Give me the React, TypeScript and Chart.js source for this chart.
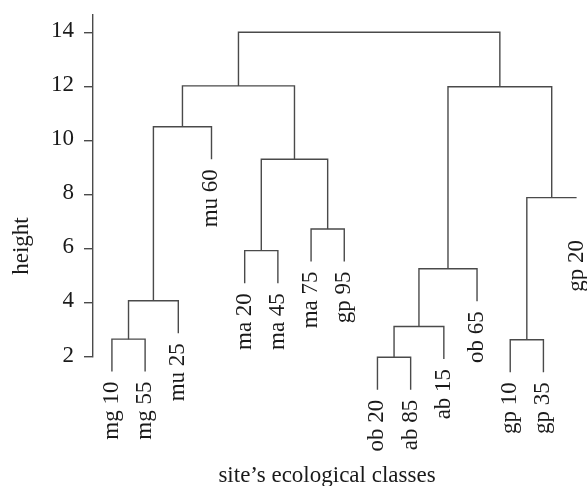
import React, { useEffect, useRef } from 'react';
import { Chart, registerables } from 'chart.js';

Chart.register(...registerables);

// Leaves in display order
const leafLabels = ['mg 10', 'mg 55', 'mu 25', 'mu 60', 'ma 20', 'ma 45', 'ma 75', 'gp 95', 'ob 20', 'ab 85', 'ab 15', 'ob 65', 'gp 10', 'gp 35', 'gp 20'];
// hclust-style merges: negative = leaf (1-based), positive = earlier merge (1-based)
const mergeLeft = [-9, -13, -1, 1, 3, 4, -5, -7, 2, 7, 5, 6, 11, 13];
const mergeRight = [-10, -14, -2, -11, -3, -12, -6, -8, -15, 8, -4, 9, 10, 12];
const mergeHeight = [1.99, 2.64, 2.66, 3.13, 4.08, 5.26, 5.93, 6.73, 7.89, 9.31, 10.51, 11.99, 12.02, 14.0];
const leafHang = 1.2;
const yTicks = [2, 4, 6, 8, 10, 12, 14];
const yTitle = 'height';
const xTitle = 'site\u2019s ecological classes';

const FONT = '"Liberation Serif", "Times New Roman", serif';
const LINE = '#4a4a4a';
const TEXT = '#1a1a1a';

function buildTree() {
  const nodeX: number[] = [];
  const leafBottom: number[] = new Array(leafLabels.length).fill(0);
  const segments: { x: number; y: number }[][] = [];
  for (let k = 0; k < mergeHeight.length; k++) {
    const h = mergeHeight[k];
    const info = (c: number) => {
      if (c < 0) {
        leafBottom[-c - 1] = h - leafHang;
        return { x: -c, y: h - leafHang };
      }
      return { x: nodeX[c - 1], y: mergeHeight[c - 1] };
    };
    const l = info(mergeLeft[k]);
    const r = info(mergeRight[k]);
    nodeX[k] = (l.x + r.x) / 2;
    segments.push([
      { x: l.x, y: l.y },
      { x: l.x, y: h },
      { x: r.x, y: h },
      { x: r.x, y: r.y },
    ]);
  }
  return { segments, leafBottom };
}

export default function App() {
  const ref = useRef<HTMLCanvasElement | null>(null);

  useEffect(() => {
    if (!ref.current) return;
    const { segments, leafBottom } = buildTree();

    const textPlugin = {
      id: 'dendroText',
      afterDraw(chart: any) {
        const ctx = chart.ctx;
        const xs = chart.scales.x;
        const ys = chart.scales.y;
        ctx.save();
        ctx.fillStyle = TEXT;
        ctx.font = `23px ${FONT}`;
        // leaf labels
        leafLabels.forEach((lab, i) => {
          const px = xs.getPixelForValue(i + 1);
          const py = ys.getPixelForValue(leafBottom[i]) + 10;
          ctx.save();
          ctx.translate(px, py);
          ctx.rotate(-Math.PI / 2);
          ctx.textAlign = 'right';
          ctx.textBaseline = 'alphabetic';
          ctx.fillText(lab, 0, 6);
          ctx.restore();
        });
        // y title
        ctx.save();
        ctx.translate(28, 246);
        ctx.rotate(-Math.PI / 2);
        ctx.textAlign = 'center';
        ctx.textBaseline = 'alphabetic';
        ctx.fillText(yTitle, 0, 0);
        ctx.restore();
        // x title
        ctx.textAlign = 'center';
        ctx.textBaseline = 'alphabetic';
        ctx.fillText(xTitle, 327, 481.5);
        ctx.restore();
      },
    };

    const chart = new Chart(ref.current, {
      type: 'line',
      data: {
        datasets: segments.map((seg) => ({
          data: seg,
          borderColor: LINE,
          borderWidth: 1.4,
          pointRadius: 0,
          tension: 0,
          fill: false,
          clip: false as any,
        })),
      },
      options: {
        responsive: false,
        animation: false,
        events: [],
        layout: { padding: { top: 15, bottom: 129, right: 24, left: 0 } },
        plugins: { legend: { display: false }, tooltip: { enabled: false } },
        scales: {
          x: { type: 'linear', min: 0.43, max: 14.59, display: false },
          y: {
            type: 'linear',
            min: 2,
            max: 14.64,
            afterFit: (s: any) => {
              s.width = 93;
              s.paddingTop = 0;
              s.paddingBottom = 0;
            },
            afterBuildTicks: (s: any) => { s.ticks = yTicks.map((v) => ({ value: v })); },
            grid: { drawOnChartArea: false, drawTicks: true, tickLength: 9, color: LINE, lineWidth: 1.4 },
            border: { display: true, color: LINE, width: 1.4 },
            ticks: {
              padding: 10,
              color: TEXT,
              font: { family: FONT, size: 23 },
              labelOffset: -1.5,
            },
          },
        },
      },
      plugins: [textPlugin],
    } as any);
    return () => chart.destroy();
  }, []);

  return (
    <div style={{ position: 'fixed', left: 0, top: 0, width: 587, height: 486, background: '#fff' }}>
      <canvas ref={ref} width={587} height={486} />
    </div>
  );
}
